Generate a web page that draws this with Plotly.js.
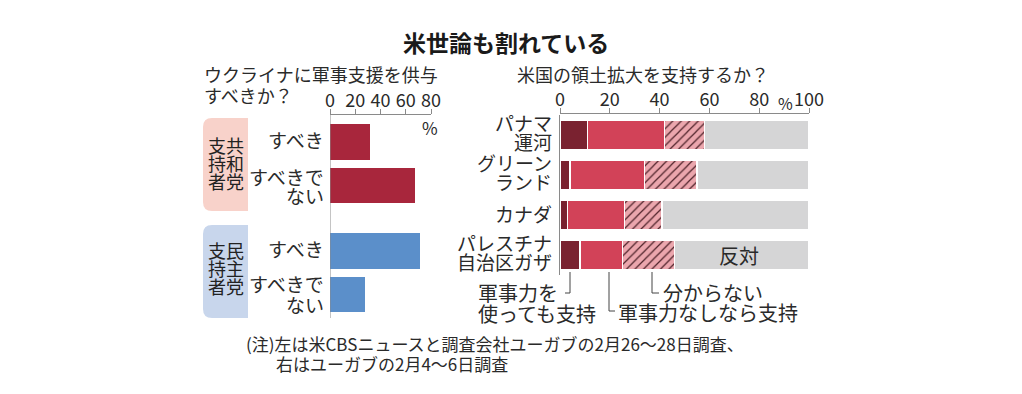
<!DOCTYPE html>
<html>
<head>
<meta charset="utf-8">
<script src="https://cdn.plot.ly/plotly-3.0.1.min.js"></script>
<style>html,body{margin:0;padding:0;background:#fff;}#chart{width:1022px;height:394px;}</style>
</head>
<body>
<div id="chart"></div>
<script>
// ---- Data ----
const leftCategories = ['すべき', 'すべきで<br>ない'];
const republicanValues = [32, 67];
const democratValues = [71, 28];
const leftTicks = [0, 20, 40, 60, 80];

const rightCategories = ['パナマ<br>運河', 'グリーン<br>ランド', 'カナダ', 'パレスチナ<br>自治区ガザ'];
const supportWithMilitary = [11, 4, 3, 8];
const supportWithoutMilitary = [31, 30, 23, 17];
const dontKnow = [16, 21, 15, 21];
const oppose = [42, 45, 59, 54];
const rightTicks = [0, 20, 40, 60, 80, 100];

const republicanLabel = ['支共', '持和', '者党'];
const democratLabel = ['支民', '持主', '者党'];

// ---- Helpers (pixel -> paper) ----
const W = 1022, H = 394;
const px = x => x / W;
const py = y => 1 - y / H;
function roundedBox(x0, y0, x1, y1, r) {
  const P = (x, y) => px(x) + ',' + py(y);
  return 'M' + P(x0 + r, y0) + ' L' + P(x1, y0) + ' L' + P(x1, y1) + ' L' + P(x0 + r, y1) +
    ' Q' + P(x0, y1) + ' ' + P(x0, y1 - r) + ' L' + P(x0, y0 + r) +
    ' Q' + P(x0, y0) + ' ' + P(x0 + r, y0) + ' Z';
}

const JP = '"Noto Sans CJK JP", "Noto Sans", sans-serif';
const TXT = '#2a2a2a';
const AX = '#8a8a8a';

const traces = [
  { type: 'bar', orientation: 'h', x: republicanValues, y: leftCategories, xaxis: 'x', yaxis: 'y',
    width: 0.82, marker: { color: '#a8263c' }, showlegend: false, hoverinfo: 'skip' },
  { type: 'bar', orientation: 'h', x: democratValues, y: leftCategories, xaxis: 'x', yaxis: 'y3',
    width: 0.82, marker: { color: '#5b8fca' }, showlegend: false, hoverinfo: 'skip' },
  { type: 'bar', orientation: 'h', x: supportWithMilitary, y: rightCategories, xaxis: 'x2', yaxis: 'y2',
    width: 0.75, marker: { color: '#7a2230', line: { color: '#ffffff', width: 1.5 } }, showlegend: false, hoverinfo: 'skip' },
  { type: 'bar', orientation: 'h', x: supportWithoutMilitary, y: rightCategories, xaxis: 'x2', yaxis: 'y2',
    width: 0.75, marker: { color: '#d24258', line: { color: '#ffffff', width: 1.5 } }, showlegend: false, hoverinfo: 'skip' },
  { type: 'bar', orientation: 'h', x: dontKnow, y: rightCategories, xaxis: 'x2', yaxis: 'y2',
    width: 0.75, marker: { color: '#eba6ad', line: { color: '#ffffff', width: 1.5 },
      pattern: { shape: '/', bgcolor: '#eba6ad', fgcolor: '#4e2229', size: 6, solidity: 0.2 } },
    showlegend: false, hoverinfo: 'skip' },
  { type: 'bar', orientation: 'h', x: oppose, y: rightCategories, xaxis: 'x2', yaxis: 'y2',
    width: 0.75, marker: { color: '#d5d5d6', line: { color: '#ffffff', width: 1.5 } }, showlegend: false, hoverinfo: 'skip' }
];

const numAxis = (domain, range, ticks, posY) => ({
  domain: domain, range: range, anchor: 'free', position: posY, side: 'top',
  tickmode: 'array', tickvals: ticks, ticktext: ticks.map(String),
  ticks: 'outside', ticklen: 5, tickcolor: AX, tickwidth: 1, ticklabelstandoff: -5,
  showline: true, linecolor: AX, linewidth: 1, showgrid: false, zeroline: false,
  tickfont: { family: JP, size: 18, color: TXT }, fixedrange: true
});
const catAxis = (domain, anchor, n, line) => ({
  domain: domain, anchor: anchor, type: 'category', range: [n - 0.5, -0.5],
  showline: line, linecolor: AX, linewidth: 1, ticks: '', showgrid: false, zeroline: false,
  showticklabels: false, fixedrange: true
});

const annotations = [
  { text: '<b>米世論も割れている</b>', xref: 'paper', yref: 'paper', x: px(506), y: py(42),
    xanchor: 'center', yanchor: 'middle', showarrow: false, font: { size: 23, color: '#1a1a1a' } },
  { text: 'ウクライナに軍事支援を供与', xref: 'paper', yref: 'paper', x: px(202), y: py(74),
    xanchor: 'left', yanchor: 'middle', showarrow: false, font: { size: 18 } },
  { text: 'すべきか？', xref: 'paper', yref: 'paper', x: px(202), y: py(95),
    xanchor: 'left', yanchor: 'middle', showarrow: false, font: { size: 18 } },
  { text: '米国の領土拡大を支持するか？', xref: 'paper', yref: 'paper', x: px(515), y: py(74),
    xanchor: 'left', yanchor: 'middle', showarrow: false, font: { size: 18 } },
  { text: '%', xref: 'paper', yref: 'paper', x: px(430), y: py(128),
    xanchor: 'center', yanchor: 'middle', showarrow: false, font: { size: 17 } },
  { text: '%', xref: 'paper', yref: 'paper', x: px(785), y: py(103),
    xanchor: 'center', yanchor: 'middle', showarrow: false, font: { size: 16 } },
  { text: '反対', xref: 'paper', yref: 'paper', x: px(739), y: py(256),
    xanchor: 'center', yanchor: 'middle', showarrow: false, font: { size: 20 } },
  { text: '軍事力を', xref: 'paper', yref: 'paper', x: px(476), y: py(292),
    xanchor: 'left', yanchor: 'middle', showarrow: false, font: { size: 20 } },
  { text: '使っても支持', xref: 'paper', yref: 'paper', x: px(476), y: py(313),
    xanchor: 'left', yanchor: 'middle', showarrow: false, font: { size: 20 } },
  { text: '分からない', xref: 'paper', yref: 'paper', x: px(661), y: py(292),
    xanchor: 'left', yanchor: 'middle', showarrow: false, font: { size: 20 } },
  { text: '軍事力なしなら支持', xref: 'paper', yref: 'paper', x: px(616), y: py(312),
    xanchor: 'left', yanchor: 'middle', showarrow: false, font: { size: 20 } },
  { text: '(注)左は米CBSニュースと調査会社ユーガブの2月26～28日調査、', xref: 'paper', yref: 'paper',
    x: px(244), y: py(343), xanchor: 'left', yanchor: 'middle', showarrow: false, font: { size: 17 } },
  { text: '右はユーガブの2月4～6日調査', xref: 'paper', yref: 'paper',
    x: px(274), y: py(363), xanchor: 'left', yanchor: 'middle', showarrow: false, font: { size: 17 } }
];

// party labels (one annotation per row)
function partyRows(rows, yTop) {
  rows.forEach((r, i) => annotations.push({ text: r, xref: 'paper', yref: 'paper', x: px(226), y: py(yTop + i * 18.3),
    xanchor: 'center', yanchor: 'middle', showarrow: false, font: { size: 18, color: '#222' } }));
}
partyRows(republicanLabel, 144.5);
partyRows(democratLabel, 249.5);

// category labels: split lines, tight line spacing
function catLabels(cats, yref, xRight, size, up, down, single) {
  cats.forEach((c, i) => {
    const lines = c.split('<br>');
    const shifts = lines.length === 1 ? [single] : [up, down];
    lines.forEach((ln, j) => annotations.push({ text: ln, xref: 'paper', yref: yref, x: px(xRight), y: i,
      yshift: shifts[j], xanchor: 'right', yanchor: 'middle', showarrow: false, font: { size: size } }));
  });
}
catLabels(leftCategories, 'y', 326, 19, 9.5, -10, 3);
catLabels(leftCategories, 'y3', 326, 19, 11, -10, 3);
catLabels(rightCategories, 'y2', 554, 19, 12.5, -6.5, 1);

const layout = {
  width: W, height: H,
  margin: { l: 0, r: 0, t: 0, b: 0 },
  paper_bgcolor: '#ffffff', plot_bgcolor: 'rgba(0,0,0,0)',
  font: { family: JP, color: TXT },
  barmode: 'stack',
  xaxis: numAxis([px(330), px(431)], [0, 80], leftTicks, py(114)),
  xaxis2: numAxis([px(560), px(809)], [0, 100], rightTicks, py(113)),
  yaxis: catAxis([py(207.25), py(120.25)], 'x', 2, false),
  yaxis3: catAxis([py(316.25), py(229.25)], 'x', 2, false),
  yaxis2: catAxis([py(275), py(115)], 'x2', 4, true),
  shapes: [
    { type: 'path', xref: 'paper', yref: 'paper', path: roundedBox(203, 118, 248, 211, 9),
      fillcolor: '#f8d2ca', line: { width: 0 }, layer: 'below' },
    { type: 'path', xref: 'paper', yref: 'paper', path: roundedBox(203, 225, 248, 318, 9),
      fillcolor: '#c8d6ec', line: { width: 0 }, layer: 'below' },
    { type: 'line', xref: 'x', yref: 'paper', x0: 0, x1: 0, y0: py(318), y1: py(114),
      line: { color: AX, width: 1 } },
    // legend leader lines
    { type: 'path', xref: 'paper', yref: 'paper',
      path: 'M' + px(570) + ',' + py(272) + ' L' + px(570) + ',' + py(293) + ' L' + px(565) + ',' + py(293),
      line: { color: '#444', width: 1 } },
    { type: 'path', xref: 'paper', yref: 'paper',
      path: 'M' + px(609) + ',' + py(272) + ' L' + px(609) + ',' + py(311) + ' L' + px(615) + ',' + py(311),
      line: { color: '#444', width: 1 } },
    { type: 'path', xref: 'paper', yref: 'paper',
      path: 'M' + px(652) + ',' + py(272) + ' L' + px(652) + ',' + py(293) + ' L' + px(659) + ',' + py(293),
      line: { color: '#444', width: 1 } }
  ],
  annotations: annotations
};

Plotly.newPlot('chart', traces, layout, { staticPlot: true, displayModeBar: false });
</script>
</body>
</html>
